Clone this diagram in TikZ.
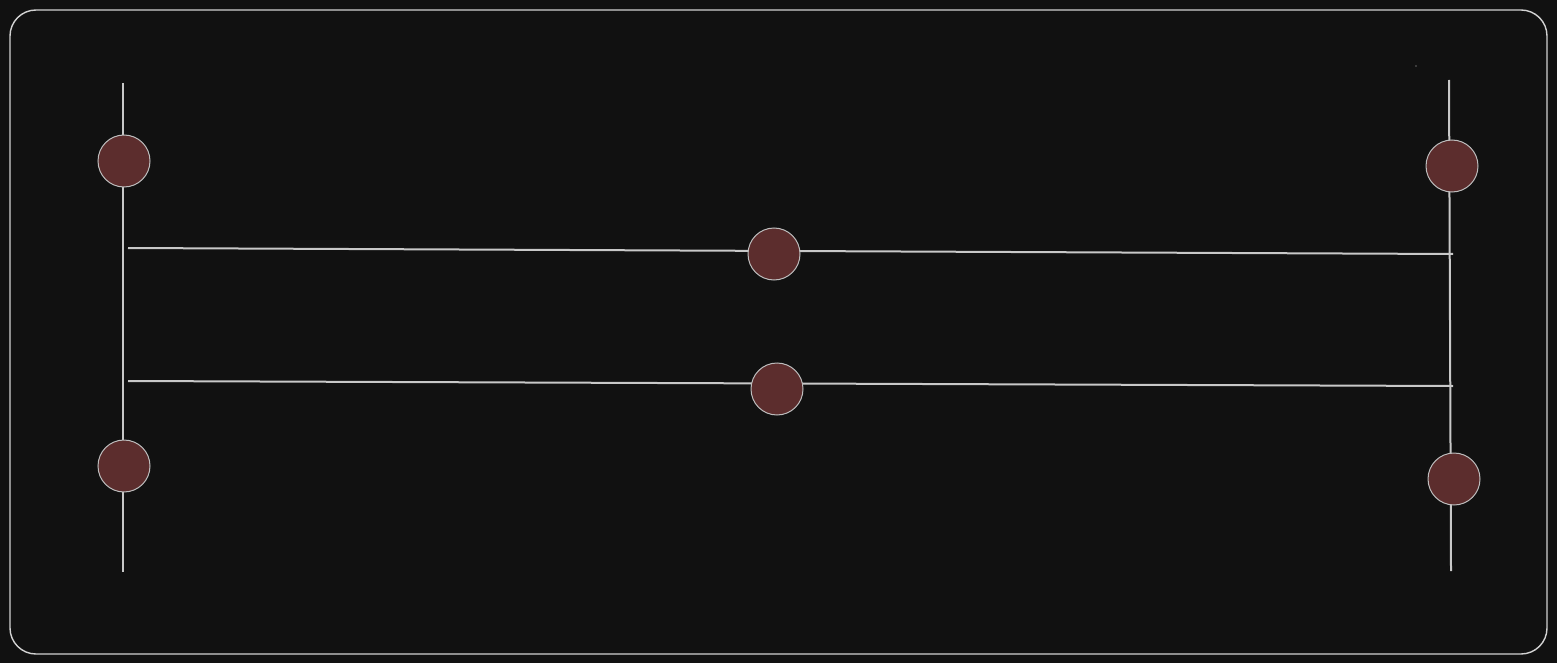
\documentclass[tikz,border=0pt]{standalone}
\begin{document}
\begin{tikzpicture}[x=1pt,y=-1pt,
  bead/.style={circle, draw=bdcol, line width=1pt, fill=beadfill, minimum size=52pt, inner sep=0pt},
  wire/.style={draw=wirecol, line width=2pt},
  framestyle/.style={draw=framecol, line width=1.4pt, rounded corners=26pt}]
\definecolor{bgcol}{HTML}{111111}
\definecolor{wirecol}{HTML}{C8C8C8}
\definecolor{bdcol}{HTML}{BDBDBD}
\definecolor{beadfill}{HTML}{5C2D2D}
\definecolor{framecol}{HTML}{D2D2D2}
\fill[bgcol] (0,0) rectangle (1557,663);
\useasboundingbox (0,0) rectangle (1557,663);
\path[framestyle] (10,10) rectangle (1547,654);
% wire end points
\coordinate (l1) at (123,83);
\coordinate (l2) at (123,572);
\coordinate (r1) at (1449,80);
\coordinate (r2) at (1451,571);
\coordinate (h1a) at (128,248);
\coordinate (h1b) at (1453,254);
\coordinate (h2a) at (128,381);
\coordinate (h2b) at (1453,386);
\draw[wire] (l1) -- (l2);
\draw[wire] (r1) -- (r2);
\draw[wire] (h1a) -- (h1b);
\draw[wire] (h2a) -- (h2b);
% beads
\node[bead] (lt) at (124,161) {};
\node[bead] (lb) at (124,466) {};
\node[bead] (rt) at (1452,166) {};
\node[bead] (rb) at (1454,479) {};
\node[bead] (mt) at (774,254) {};
\node[bead] (mb) at (777,389) {};
\fill[wirecol] (1416,66) circle (0.7pt);
\end{tikzpicture}
\end{document}
